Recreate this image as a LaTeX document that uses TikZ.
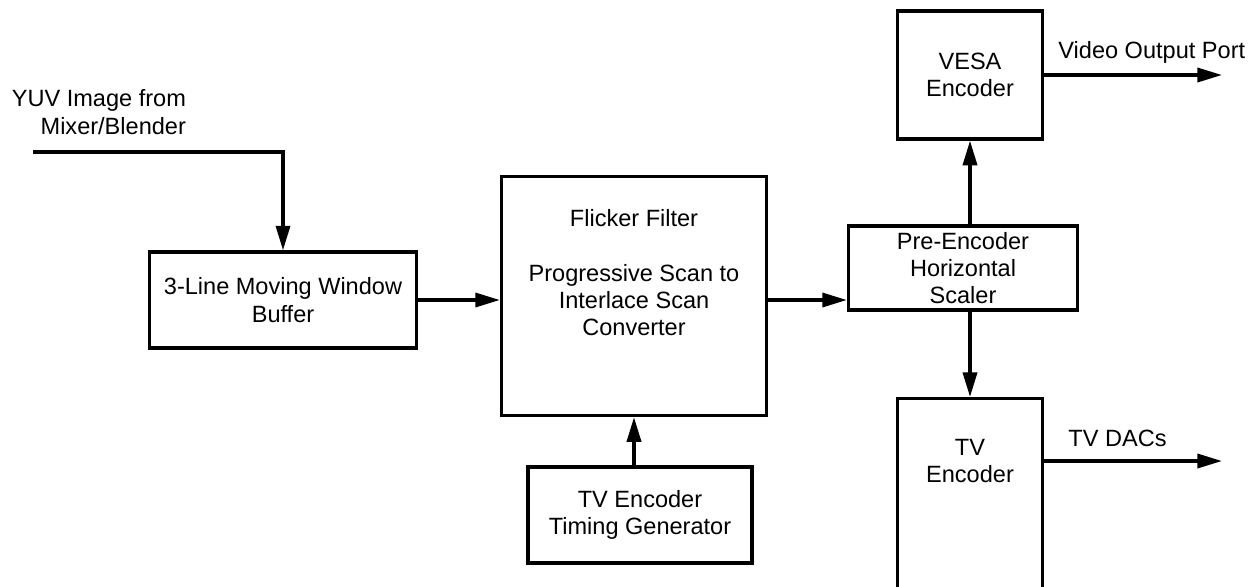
\documentclass[tikz,border=0pt]{standalone}
\usepackage{fontspec}
\setmainfont{Liberation Sans}
\usetikzlibrary{arrows.meta}

\begin{document}
\begin{tikzpicture}[x=0.02cm, y=-0.02cm,
  font=\fontsize{13.4}{15.5}\selectfont,
  blk/.style={draw, line width=1.9pt, align=center, inner sep=2pt},
  txt/.style={align=center, inner sep=1pt},
  arr/.style={-{Triangle[length=14pt, width=8pt]}, line width=1.9pt}]

\clip (0,0) rectangle (1257,586);
\useasboundingbox (0,0) rectangle (1257,586);

\node[blk, minimum width=5.34cm, minimum height=1.92cm] (buffer) at (283,300)
  {3-Line Moving Window\\Buffer};
\node[blk, minimum width=5.3cm, minimum height=4.78cm] (flicker) at (634,296) {};
\node[txt] (flickertxt) at (634,273)
  {Flicker Filter\\[15.5pt]Progressive Scan to\\Interlace Scan\\Converter};
\node[blk, minimum width=4.48cm, minimum height=1.92cm] (timing) at (640,515)
  {TV Encoder\\Timing Generator};
\node[blk, minimum width=4.58cm, minimum height=1.68cm] (preenc) at (963,268)
  {Pre-Encoder\\Horizontal\\Scaler};
\node[blk, minimum width=2.9cm, minimum height=2.56cm] (vesa) at (970,75)
  {VESA\\Encoder};
\node[blk, minimum width=2.9cm, minimum height=5cm, anchor=north] (tvenc) at (970,397) {};
\node[txt] (tvenctxt) at (970,461) {TV\\Encoder};

\node[txt, align=right, anchor=east] (yuv) at (188,112) {YUV Image from\\Mixer/Blender};
\coordinate (yuvin) at (33,152);
\coordinate (vout) at (1222,75);
\coordinate (dacout) at (1222,461);

\draw[arr] (yuvin) -| (buffer.north);
\draw[arr] (buffer.east) -- (buffer.east -| flicker.west);
\draw[arr] (flicker.east |- buffer.east) -- (preenc.west |- buffer.east);
\draw[arr] (flicker.south |- timing.north) -- (flicker.south);
\draw[arr] (vesa.south |- preenc.north) -- (vesa.south);
\draw[arr] (vesa.south |- preenc.south) -- (tvenc.north);
\draw[arr] (vesa.east |- vout) -- (vout)
  node[txt, anchor=west] (voutlab) at (1055,52) {Video Output Port};
\draw[arr] (tvenc.east |- dacout) -- (dacout)
  node[txt, anchor=west] (daclab) at (1065,438) {TV DACs};
\end{tikzpicture}
\end{document}
